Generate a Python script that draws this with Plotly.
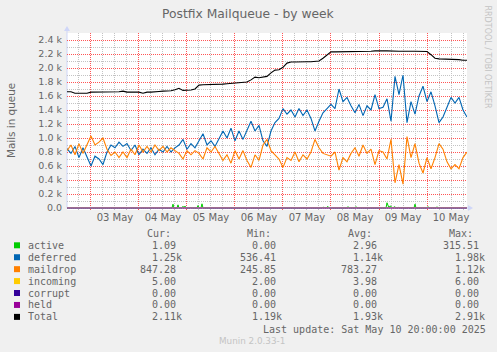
import plotly.graph_objects as go
import pandas as pd

# ---------------- data ----------------
# samples every 2 hours starting 2025-05-02 12:00
sample_hours = list(range(0, 201, 2))

deferred = [850, 780, 880, 720, 860, 740, 600, 740, 700, 620,
            800, 900, 860, 940, 880, 920, 820, 900, 760, 840,
            780, 860, 760, 840, 800, 880, 800, 860, 900, 980,
            840, 920, 860, 960, 1060, 900, 960, 880, 980, 1100,
            1000, 1140, 960, 1100, 980, 1120, 1240, 1100, 1180, 960,
            880, 1100, 1220, 1280, 1420, 1340, 1400, 1300, 1420, 1320,
            1400, 1280, 1100, 1240, 1360, 1420, 1480, 1420, 1700, 1520,
            1580, 1460, 1360, 1480, 1320, 1460, 1400, 1620, 1420, 1440,
            1560, 1240, 1880, 1620, 1900, 1220, 1520, 1340, 1600, 1740,
            1520, 1660, 1460, 1220, 1300, 1440, 1580, 1500, 1580, 1400,
            1300]

maildrop = [820, 900, 760, 920, 780, 900, 1030, 900, 940, 1000,
            840, 750, 800, 720, 800, 720, 840, 760, 900, 800,
            880, 800, 900, 820, 880, 800, 860, 820, 780, 700,
            820, 760, 820, 780, 700, 860, 800, 880, 780, 680,
            760, 640, 820, 700, 820, 680, 580, 760, 680, 900,
            980, 820, 760, 700, 580, 720, 680, 800, 660, 760,
            700, 800, 980, 860, 780, 760, 740, 800, 540, 720,
            660, 780, 860, 740, 900, 780, 840, 620, 820, 800,
            700, 980, 360, 620, 340, 1020, 720, 920, 640, 500,
            720, 560, 720, 920, 840, 660, 560, 620, 560, 720,
            800]

total = [1660, 1660, 1640, 1640, 1640, 1640, 1655, 1655, 1655, 1655,
         1655, 1655, 1655, 1660, 1670, 1655, 1655, 1655, 1655, 1640,
         1655, 1655, 1655, 1665, 1670, 1670, 1675, 1690, 1710, 1680,
         1680, 1685, 1700, 1755, 1760, 1760, 1765, 1765, 1770, 1770,
         1775, 1780, 1785, 1795, 1800, 1800, 1830, 1870, 1860, 1865,
         1880, 1930, 1970, 1975, 2010, 2070, 2085, 2085, 2090, 2085,
         2090, 2090, 2090, 2100, 2140, 2180, 2230, 2230, 2230, 2230,
         2230, 2230, 2230, 2230, 2230, 2240, 2240, 2245, 2240, 2245,
         2245, 2240, 2235, 2240, 2240, 2235, 2240, 2240, 2240, 2240,
         2235, 2190, 2140, 2130, 2130, 2130, 2130, 2125, 2120, 2110,
         2110]

active_hours = [0, 52.5, 53, 53.5, 55, 55.5, 56, 57.5, 58, 58.5, 59, 59.5,
                61.5, 62, 62.5, 65, 65.5, 66, 67, 67.5, 68,
                117, 117.5, 118, 123.5, 124, 124.5, 127.5, 128, 129.5, 130.5, 131,
                140, 140.5, 141, 144, 144.5, 145,
                159.5, 160, 161, 161.5, 163, 163.5, 165, 165.5, 167, 167.5, 168,
                170, 170.5, 171, 173.5, 174, 174.5, 180, 180.5, 181,
                184.5, 185, 185.5, 195, 195.5, 196, 200]
active = [0, 0, 55, 0, 0, 45, 0, 0, 25, 0, 28, 0,
          0, 10, 0, 0, 35, 0, 0, 60, 0,
          0, 8, 0, 0, 8, 0, 0, 12, 0, 22, 0,
          0, 20, 0, 0, 20, 0,
          0, 75, 0, 30, 0, 18, 0, 10, 0, 8, 0,
          0, 12, 0, 0, 55, 0, 0, 20, 0,
          0, 18, 0, 0, 8, 0, 1]

incoming_hours = [0, 50, 100, 150, 200]
incoming = [4, 3, 4, 4, 5]
zero_hours = [0, 200]
corrupt = [0, 0]
held = [0, 0]

series_names = ["active", "deferred", "maildrop", "incoming", "corrupt", "held", "Total"]
series_colors = ["#00CC00", "#0066B3", "#FF8000", "#FFCC00", "#330099", "#990099", "#000000"]
cur_vals = ["1.09", "1.25k", "847.28", "5.00", "0.00", "0.00", "2.11k"]
min_vals = ["0.00", "536.41", "245.85", "2.00", "0.00", "0.00", "1.19k"]
avg_vals = ["2.96", "1.14k", "783.27", "3.98", "0.00", "0.00", "1.93k"]
max_vals = ["315.51", "1.98k", "1.12k", "6.00", "0.00", "0.00", "2.91k"]

ytick_vals = [0, 200, 400, 600, 800, 1000, 1200, 1400, 1600, 1800, 2000, 2200, 2400]
ytick_text = ["0.0", "0.2 k", "0.4 k", "0.6 k", "0.8 k", "1.0 k", "1.2 k", "1.4 k",
              "1.6 k", "1.8 k", "2.0 k", "2.2 k", "2.4 k"]
yminor_vals = [100, 300, 500, 700, 900, 1100, 1300, 1500, 1700, 1900, 2100, 2300, 2500]
xminor_hours = [6, 12, 18]  # within each day

# ---------------- geometry ----------------
W, H = 497, 352
PL, PR, PT, PB = 67, 467, 33, 210
ZERO_PIX = 208
YMAX = 2500
px_per_unit = (ZERO_PIX - PT) / YMAX
YMIN = -(PB - ZERO_PIX) / px_per_unit

base = pd.Timestamp("2025-05-02 12:00:00")
day0 = pd.Timestamp("2025-05-02 00:00:00")


def to_t(hs):
    return [base + pd.Timedelta(hours=h) for h in hs]


def fx(px):
    return (px - PL) / (PR - PL)


def fy(py):
    return (PB - py) / (PB - PT)


xminor_vals = [day0 + pd.Timedelta(days=d, hours=h) for d in range(0, 10) for h in xminor_hours]

FONT_COLOR = "#666666"
AXIS_COLOR = "#CFD6F8"

fig = go.Figure()
fig.add_trace(go.Scatter(x=to_t(active_hours), y=active, mode="lines",
                         line=dict(color=series_colors[0], width=1)))
fig.add_trace(go.Scatter(x=to_t(sample_hours), y=deferred, mode="lines",
                         line=dict(color=series_colors[1], width=1.1)))
fig.add_trace(go.Scatter(x=to_t(sample_hours), y=maildrop, mode="lines",
                         line=dict(color=series_colors[2], width=1.1)))
fig.add_trace(go.Scatter(x=to_t(incoming_hours), y=incoming, mode="lines",
                         line=dict(color=series_colors[3], width=1)))
fig.add_trace(go.Scatter(x=to_t(zero_hours), y=corrupt, mode="lines",
                         line=dict(color=series_colors[4], width=1)))
fig.add_trace(go.Scatter(x=to_t(zero_hours), y=held, mode="lines",
                         line=dict(color="#B070C8", width=1)))
fig.add_trace(go.Scatter(x=to_t(sample_hours), y=total, mode="lines",
                         line=dict(color=series_colors[6], width=1.1)))

major_grid = "rgb(255,85,85)"
minor_grid = "rgb(195,195,195)"

fig.update_xaxes(
    type="date",
    range=[base + pd.Timedelta(seconds=30), base + pd.Timedelta(hours=200)],
    tick0="2025-05-02 00:00:00", dtick=86400000,
    ticklabelmode="period", tickformat="%d %b",
    showgrid=True, gridcolor=major_grid, gridwidth=1, griddash="1px,1px",
    minor=dict(tickmode="array", tickvals=xminor_vals, showgrid=True,
               gridcolor=minor_grid, gridwidth=1, griddash="1px,1px"),
    showline=False, zeroline=False, ticks="",
    tickfont=dict(family="DejaVu Sans", size=10, color=FONT_COLOR),
    fixedrange=True,
)
fig.update_yaxes(
    range=[YMIN, YMAX],
    tickmode="array", tickvals=ytick_vals, ticktext=ytick_text,
    showgrid=True, gridcolor=major_grid, gridwidth=1, griddash="1px,1px",
    minor=dict(tickmode="array", tickvals=yminor_vals, showgrid=True,
               gridcolor=minor_grid, gridwidth=1, griddash="1px,1px"),
    showline=False, zeroline=False, ticks="",
    ticklabelstandoff=4,
    tickfont=dict(family="DejaVu Sans", size=9.5, color=FONT_COLOR),
    fixedrange=True,
)

shapes = []
# axes lines with arrows
shapes.append(dict(type="line", xref="paper", yref="paper", x0=0, x1=0,
                   y0=fy(ZERO_PIX), y1=fy(31), line=dict(color=AXIS_COLOR, width=1), layer="below"))
shapes.append(dict(type="path", xref="paper", yref="paper",
                   path=f"M {fx(64)} {fy(31)} L {fx(70)} {fy(31)} L {fx(67)} {fy(26)} Z",
                   fillcolor=AXIS_COLOR, line=dict(width=0)))
shapes.append(dict(type="line", xref="paper", yref="paper", x0=0, x1=fx(468),
                   y0=fy(ZERO_PIX), y1=fy(ZERO_PIX), line=dict(color=AXIS_COLOR, width=1), layer="below"))
shapes.append(dict(type="path", xref="paper", yref="paper",
                   path=f"M {fx(468)} {fy(205)} L {fx(468)} {fy(211)} L {fx(473)} {fy(208)} Z",
                   fillcolor=AXIS_COLOR, line=dict(width=0)))

annotations = []
annotations.append(dict(text="Postfix Mailqueue - by week", xref="paper", yref="paper",
                        x=fx(248.5), y=fy(13.5), xanchor="center", yanchor="middle", showarrow=False,
                        font=dict(family="DejaVu Sans", size=12.3, color=FONT_COLOR)))
annotations.append(dict(text="Mails in queue", xref="paper", yref="paper",
                        x=fx(10.5), y=fy(120.5), xanchor="center", yanchor="middle", showarrow=False,
                        textangle=-90, font=dict(family="DejaVu Sans", size=10.4, color=FONT_COLOR)))
annotations.append(dict(text="RRDTOOL / TOBI OETIKER", xref="paper", yref="paper",
                        x=fx(487), y=fy(56.5), xanchor="center", yanchor="middle", showarrow=False,
                        textangle=90, font=dict(family="DejaVu Sans", size=8, color="#C4C4C4")))

MONO = dict(family="DejaVu Sans Mono", size=10, color=FONT_COLOR)


def mono_ann(text, px, py):
    return dict(text=text, xref="paper", yref="paper", x=fx(px), y=fy(py),
                xanchor="left", yanchor="middle", showarrow=False, borderpad=0, font=MONO)


def field(s):
    suf = "k" if s.endswith("k") else ""
    num = s[:-1] if suf else s
    return num.rjust(6).replace(" ", "\u00a0") + suf


col_x = [139.3, 239.0, 340.0, 441.7]
head_x = [145.7, 245.5, 346.7, 448.0]
for hx, ht in zip(head_x, ["Cur:", "Min:", "Avg:", "Max:"]):
    annotations.append(mono_ann(ht, hx, 233))

row_y0, row_dy = 245.3, 11.93
for k, name in enumerate(series_names):
    ry = row_y0 + k * row_dy
    shapes.append(dict(type="rect", xref="paper", yref="paper",
                       x0=fx(14), x1=fx(20), y0=fy(ry + 3), y1=fy(ry - 3),
                       fillcolor=series_colors[k], line=dict(width=0)))
    annotations.append(mono_ann(name, 26.5, ry))
    for cx, vals in zip(col_x, [cur_vals, min_vals, avg_vals, max_vals]):
        annotations.append(mono_ann(field(vals[k]), cx, ry))

annotations.append(mono_ann("Last update:\u00a0Sat May 10 20:00:00 2025", 261.5, 329))
annotations.append(dict(text="Munin 2.0.33-1", xref="paper", yref="paper", x=fx(218), y=fy(341),
                        xanchor="left", yanchor="middle", showarrow=False, borderpad=0,
                        font=dict(family="DejaVu Sans", size=8.8, color="#C4C4C4")))

fig.update_layout(
    width=W, height=H,
    margin=dict(l=PL, r=W - PR, t=PT, b=H - PB, pad=0),
    paper_bgcolor="#F0F0F0", plot_bgcolor="#FFFFFF",
    showlegend=False,
    shapes=shapes, annotations=annotations,
)

fig.write_html("out.html", config={"displayModeBar": False})
